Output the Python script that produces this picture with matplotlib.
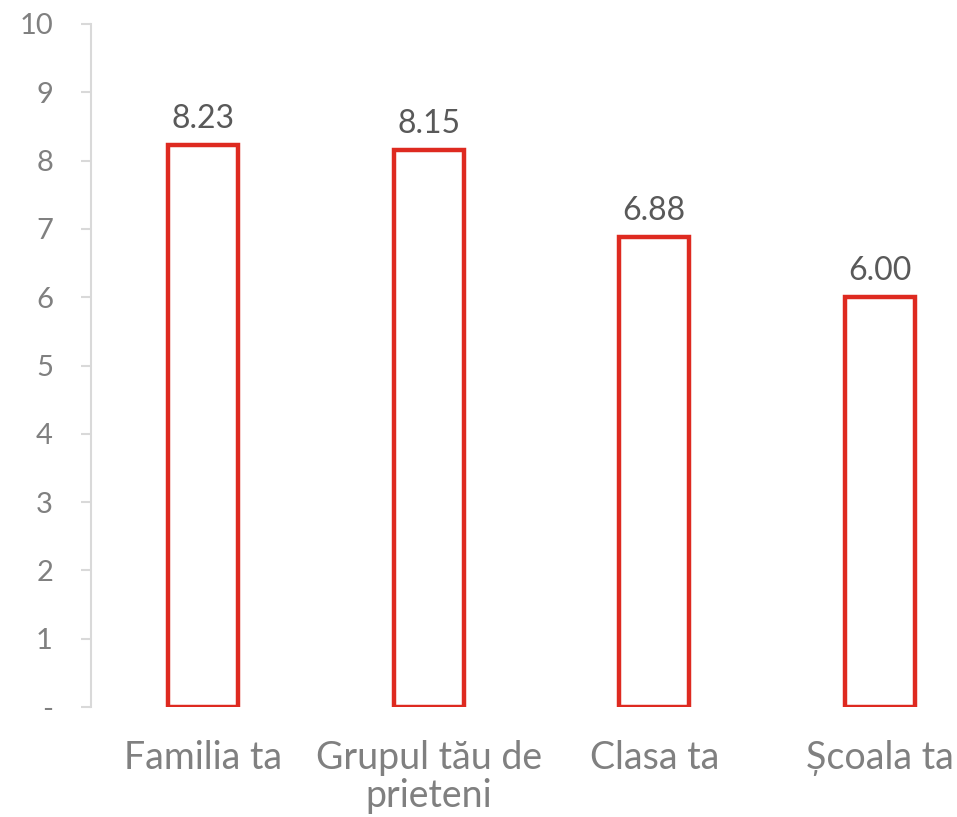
import matplotlib
matplotlib.use("Agg")
import matplotlib.pyplot as plt

categories = ["Familia ta", "Grupul tău de\nprieteni", "Clasa ta", "Școala ta"]
values = [8.23, 8.15, 6.88, 6.00]
yticks = [0, 1, 2, 3, 4, 5, 6, 7, 8, 9, 10]
ytick_labels = ["-", "1", "2", "3", "4", "5", "6", "7", "8", "9", "10"]

plt.rcParams['font.family'] = ['Lato', 'DejaVu Sans']

W, H = 957, 817
fig = plt.figure(figsize=(W / 100, H / 100), dpi=100)
left = 90.5 / W
bottom = (H - 707) / H
top = (H - 24) / H
ax = fig.add_axes([left, bottom, 1 - left, top - bottom])

x = list(range(len(categories)))
ax.bar(x, values, width=0.31, facecolor="white", edgecolor="#DE2A20", linewidth=3.2)

for xi, v in zip(x, values):
    ax.annotate(f"{v:.2f}", (xi, v), xytext=(0, 8), textcoords="offset points",
                ha="center", va="bottom", fontsize=23, color="#595959")

ax.set_xlim(-0.5, (W - 90.5) / 225.5 - 0.5)
ax.set_ylim(0, 10)
ax.set_yticks(yticks)
ax.set_yticklabels(ytick_labels, fontsize=21, color="#808080")
ax.set_xticks(x)
ax.set_xticklabels(categories, fontsize=27, color="#808080", linespacing=1.05)

for s in ["top", "right", "bottom"]:
    ax.spines[s].set_visible(False)
ax.spines["left"].set_color("#D9D9D9")
ax.spines["left"].set_linewidth(1.5)
ax.tick_params(axis="y", length=7, width=1.5, color="#D9D9D9", pad=20)
ax.tick_params(axis="x", length=0, pad=24)

fig.savefig("out.png", dpi=100)
